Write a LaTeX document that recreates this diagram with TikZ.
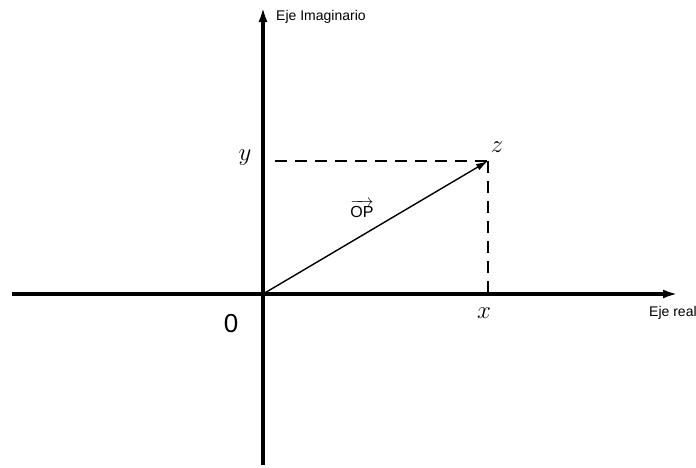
\documentclass[tikz,border=0pt]{standalone}
\usepackage{amsmath}
\usepackage{fontspec}
\setsansfont{Liberation Sans}
\usepackage{tikz}
\usetikzlibrary{arrows.meta,positioning,calc}
\tikzset{
  axis/.style={line width=3.6pt, -{Latex[length=15pt, width=9pt]}},
  vec/.style={line width=1.4pt, -{Latex[length=12pt, width=7pt]}},
  guide/.style={line width=1.3pt, dash pattern=on 12pt off 8pt},
  axlabel/.style={font=\sffamily\fontsize{14}{16}\selectfont, inner sep=0pt},
  mathlabel/.style={font=\fontsize{26}{28}\selectfont, inner sep=0pt},
}

\begin{document}
\begin{tikzpicture}[x=1pt, y=1pt]
  \useasboundingbox (-263,-173) rectangle (433,294);
  \coordinate (O) at (0,0);
  \coordinate (P) at (225,133);
  \coordinate (xmin) at (-251,0);
  \coordinate (xmax) at (415,0);
  \coordinate (ymin) at (0,-171);
  \coordinate (ymax) at (0,287);
  % axes
  \draw[axis] (xmin) -- (xmax);
  \draw[axis] (ymin) -- (ymax);
  % projections
  \coordinate (Px) at (P |- O);
  \coordinate (Py) at (P -| O);
  \draw[guide] ($(Py)+(12,0)$) -- (P);
  \draw[guide] (P) -- (Px);
  \draw[vec] (O) -- (P);
  % labels
  \node[axlabel, anchor=west] (imag) at (13,277) {Eje Imaginario};
  \node[axlabel, anchor=west] (real) at (386,-19) {Eje real};
  \node[font=\sffamily\fontsize{26}{28}\selectfont, inner sep=0pt] (zero) at (-32,-30) {0};
  \node[mathlabel] (ylab) at (-18,136) {$y$};
  \node[mathlabel] (zlab) at (234,147) {$z$};
  \node[mathlabel] (xlab) at (221,-19) {$x$};
  \node[font=\sffamily\fontsize{16}{18}\selectfont, inner sep=0pt] (op) at (99,85) {$\overrightarrow{\text{OP}}$};
\end{tikzpicture}
\end{document}
